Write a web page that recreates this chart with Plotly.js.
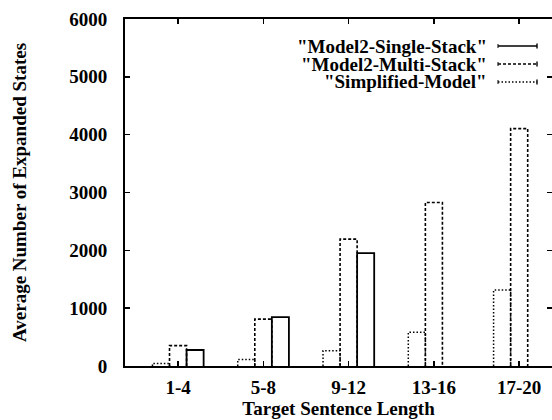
<!DOCTYPE html>
<html><head><meta charset="utf-8">
<script src="https://cdn.plot.ly/plotly-3.0.1.min.js"></script>
<style>html,body{margin:0;padding:0;background:#fff}</style>
</head><body><div id="chart" style="width:552px;height:420px"></div>
<script>
const categories = ["1-4", "5-8", "9-12", "13-16", "17-20"];
const singleStack = [277, 846, 1952, null, null];
const multiStack = [352, 811, 2194, 2828, 4105];
const simplified = [45, 112, 265, 585, 1312];
const seriesNames = ['"Model2-Single-Stack"', '"Model2-Multi-Stack"', '"Simplified-Model"'];
const yTicks = [0, 1000, 2000, 3000, 4000, 5000, 6000];

const W = 0.2;
const FONT = "Times New Roman, Liberation Serif, DejaVu Serif, serif";
const TXT = {family: FONT, size: 19, color: "#000", weight: "bold"};

function outline(values, offset) {
  const xs = [], ys = [];
  values.forEach((v, i) => {
    if (v === null) return;
    const c = i + 1 + offset;
    xs.push(c - W / 2, c - W / 2, c + W / 2, c + W / 2, null);
    ys.push(0, v, v, 0, null);
  });
  return {xs, ys};
}

const specs = [
  {vals: simplified, off: -W, dash: "1.5px,2px", name: seriesNames[2], w: 1.5},
  {vals: multiStack, off: 0, dash: "3px,2px", name: seriesNames[1], w: 1.6},
  {vals: singleStack, off: W, dash: "solid", name: seriesNames[0], w: 1.8}
];

const traces = specs.map(s => {
  const o = outline(s.vals, s.off);
  return {type: "scatter", mode: "lines", x: o.xs, y: o.ys, name: s.name,
    line: {color: "#000", width: s.w, dash: s.dash}, showlegend: false, hoverinfo: "skip"};
});
// right-hand mirror ticks (no frame line, the reference is cropped there)
traces.push({type: "scatter", mode: "lines", x: [null], y: [null], yaxis: "y2", showlegend: false, hoverinfo: "skip"});

// plot area in pixels
const L = 125, R = 552, T = 19, B = 366;
const px = x => (x - L) / (R - L);
const py = y => (B - y) / (B - T);

const legendRows = [
  {name: seriesNames[0], dash: "solid", y: 46},
  {name: seriesNames[1], dash: "3px,2px", y: 64},
  {name: seriesNames[2], dash: "1.5px,2px", y: 82}
];
const annotations = [], shapes = [];
legendRows.forEach(r => {
  annotations.push({xref: "paper", yref: "paper", x: px(489), y: py(r.y), xanchor: "right", yanchor: "middle",
    text: r.name, showarrow: false, font: TXT});
  shapes.push({type: "line", xref: "paper", yref: "paper", x0: px(498), x1: px(537), y0: py(r.y), y1: py(r.y),
    line: {color: "#000", width: 1.4, dash: r.dash}});
  shapes.push({type: "line", xref: "paper", yref: "paper", x0: px(537), x1: px(537), y0: py(r.y - 2.5), y1: py(r.y + 2.5),
    line: {color: "#000", width: 1.4}});
  shapes.push({type: "line", xref: "paper", yref: "paper", x0: px(498), x1: px(498), y0: py(r.y - 2), y1: py(r.y + 2),
    line: {color: "#000", width: 1}});
});

const layout = {
  width: 552, height: 420,
  margin: {l: L, r: 552 - R, t: T, b: 420 - B},
  paper_bgcolor: "#fff", plot_bgcolor: "#fff",
  font: TXT,
  showlegend: false,
  xaxis: {
    range: [0.378, 5.385], tickvals: [1, 2, 3, 4, 5], ticktext: categories,
    ticks: "inside", ticklen: 5, tickwidth: 1.5, tickcolor: "#000",
    showline: true, linecolor: "#000", linewidth: 2, mirror: "ticks",
    showgrid: false, zeroline: false, ticklabelstandoff: 3,
    tickfont: TXT,
    title: {text: "Target Sentence Length", font: TXT, standoff: 0}
  },
  yaxis: {
    range: [0, 6000], tickvals: yTicks,
    ticks: "inside", ticklen: 5, tickwidth: 1.5, tickcolor: "#000",
    showline: true, linecolor: "#000", linewidth: 2, mirror: false,
    showgrid: false, zeroline: false, ticklabelstandoff: 12,
    tickfont: TXT,
    title: {text: "Average Number of Expanded States", font: TXT, standoff: 38}
  },
  yaxis2: {
    overlaying: "y", side: "right", matches: "y", range: [0, 6000], tickvals: yTicks,
    ticks: "inside", ticklen: 5, tickwidth: 1.5, tickcolor: "#000",
    showline: false, showticklabels: false, showgrid: false, zeroline: false
  },
  annotations, shapes
};

Plotly.newPlot("chart", traces, layout, {staticPlot: true, displayModeBar: false});
</script></body></html>
